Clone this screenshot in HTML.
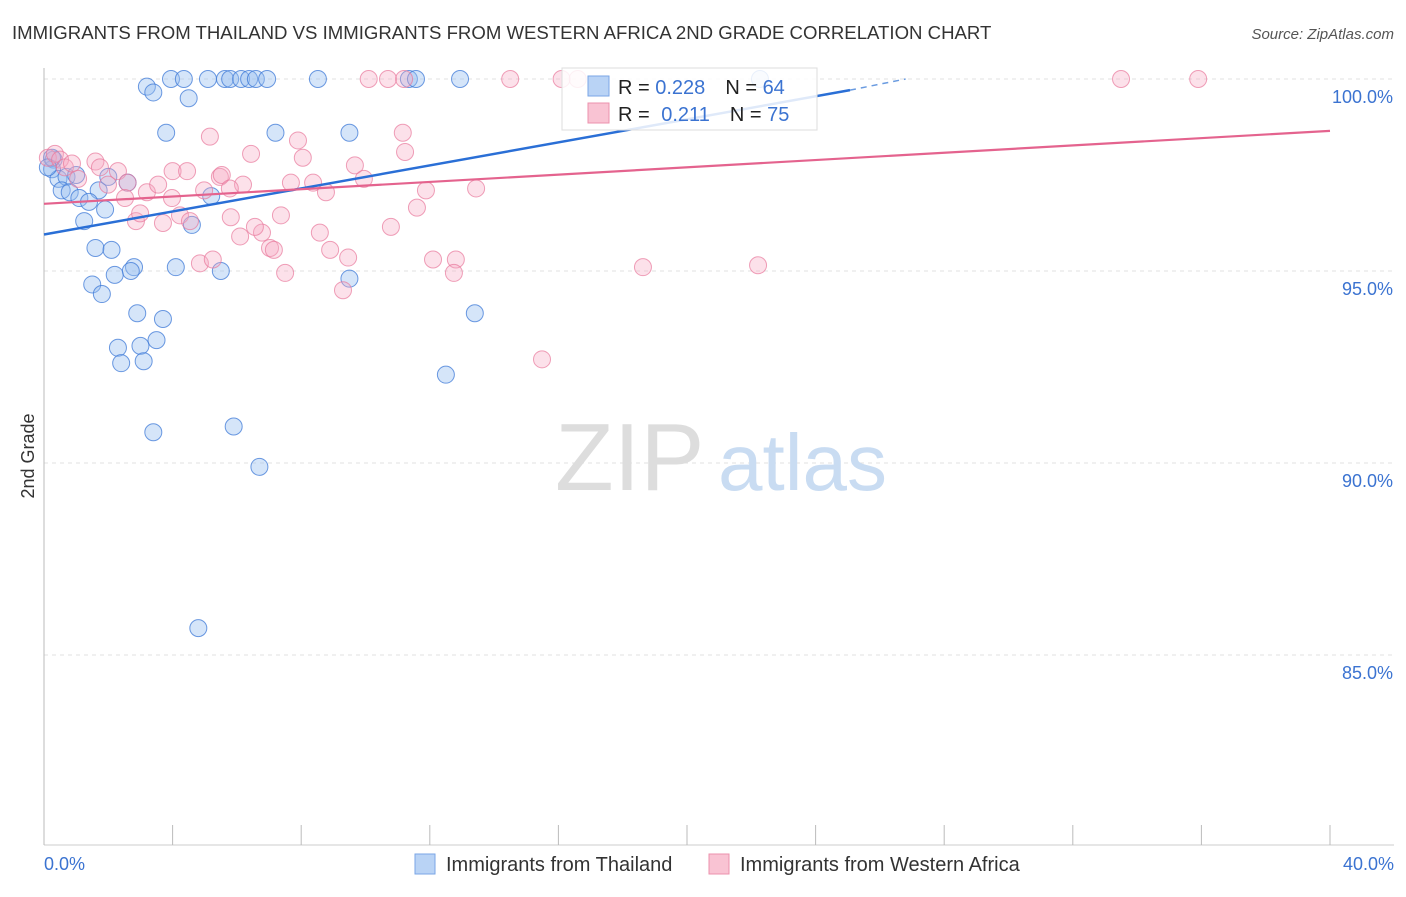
<!DOCTYPE html>
<html><head><meta charset="utf-8"><style>
body{margin:0;background:#fff;font-family:"Liberation Sans",sans-serif;}
svg text{font-family:"Liberation Sans",sans-serif;}
</style></head><body>
<svg id="chart" width="1406" height="892" xmlns="http://www.w3.org/2000/svg">
<text x="12" y="39" font-size="18.6" fill="#333">IMMIGRANTS FROM THAILAND VS IMMIGRANTS FROM WESTERN AFRICA 2ND GRADE CORRELATION CHART</text>
<text x="1394" y="39" font-size="15" fill="#555" text-anchor="end" font-style="italic">Source: ZipAtlas.com</text>
<g id="grid"></g>
<text x="555" y="490" font-size="96" fill="#ddd" font-family="Liberation Serif">ZIP</text>
<text x="718" y="490" font-size="80" fill="#c9dcf2">atlas</text>
<line x1="44" y1="68" x2="44" y2="845" stroke="#bbb"/>
<line x1="44" y1="845" x2="1394" y2="845" stroke="#ccc"/>
<g id="ticks"></g>
<g id="points"></g>
<g id="trends"></g>
<text transform="translate(34,456) rotate(-90)" font-size="18" fill="#333" text-anchor="middle">2nd Grade</text>
<text x="44" y="870" font-size="18" fill="#3b73d1">0.0%</text>
<text x="1394" y="870" font-size="18" fill="#3b73d1" text-anchor="end">40.0%</text>
<g>
<rect x="562" y="68" width="255" height="62" fill="rgba(255,255,255,0.85)" stroke="#ddd"/>
<rect x="588" y="76" width="21" height="20" fill="#b9d3f5" stroke="#7aa6e6"/>
<rect x="588" y="103" width="21" height="20" fill="#f9c3d3" stroke="#ec92ad"/>
<text x="618" y="94" font-size="20" fill="#222">R = <tspan fill="#3b73d1">0.228</tspan><tspan dx="20">N = </tspan><tspan fill="#3b73d1">64</tspan></text>
<text x="618" y="121" font-size="20" fill="#222">R = <tspan fill="#3b73d1" dx="6">0.211</tspan><tspan dx="20">N = </tspan><tspan fill="#3b73d1">75</tspan></text>
</g>
<g>
<rect x="415" y="854" width="20" height="20" fill="#b9d3f5" stroke="#7aa6e6"/>
<text x="446" y="871" font-size="20" fill="#333">Immigrants from Thailand</text>
<rect x="709" y="854" width="20" height="20" fill="#f9c3d3" stroke="#ec92ad"/>
<text x="740" y="871" font-size="20" fill="#333">Immigrants from Western Africa</text>
</g>
</svg>
<script>
const blueX=[3.95,4.35,5.1,5.63,5.79,6.13,6.38,6.59,6.94,8.52,11.35,11.57,12.94,22.27,3.2,3.4,4.5,3.8,7.2,9.5,0.3,0.25,0.45,0.7,1.0,0.55,0.8,1.7,1.1,1.4,1.25,1.9,2.0,2.6,4.6,5.2,1.6,2.1,4.1,2.8,2.7,2.2,5.5,1.5,1.8,2.9,3.7,2.3,3.0,3.5,2.4,3.1,9.5,13.4,12.5,3.4,5.9,6.7,4.8,0.25,0.12];
const blueY=[100,100,100,100,100,100,100,100,100,100,100,100,100,100,99.8,99.65,99.5,98.6,98.6,98.6,97.9,97.65,97.4,97.45,97.5,97.1,97.05,97.1,96.9,96.8,96.3,96.6,97.45,97.3,96.2,96.95,95.6,95.55,95.1,95.1,95.0,94.9,95.0,94.65,94.4,93.9,93.75,93.0,93.05,93.2,92.6,92.65,94.8,93.9,92.3,90.8,90.95,89.9,85.7,97.95,97.7];
const pinkX=[10.1,10.7,11.2,14.5,16.1,16.6,33.5,35.9,0.12,0.34,0.5,0.65,0.87,1.06,1.6,1.74,2.3,2.6,3.2,3.55,3.98,4.0,4.45,5.16,5.47,6.19,6.44,5.53,5.78,4.98,2.86,3.7,4.23,4.54,5.81,6.1,6.78,6.56,7.37,7.03,7.15,7.68,7.9,8.05,8.37,8.58,8.77,8.9,9.46,9.67,9.95,10.79,11.16,11.23,11.88,11.6,12.1,12.81,12.75,13.44,4.85,5.25,7.5,9.3,15.49,18.63,22.21,2.99,2.52,1.99];
const pinkY=[100,100,100,100,100,100,100,100,97.95,98.05,97.9,97.7,97.8,97.4,97.85,97.7,97.6,97.3,97.05,97.25,96.9,97.6,97.6,98.5,97.45,97.25,98.05,97.5,97.15,97.1,96.3,96.25,96.45,96.3,96.4,95.9,96.0,96.15,96.45,95.6,95.55,97.3,98.4,97.95,97.3,96.0,97.05,95.55,95.35,97.75,97.4,96.15,98.6,98.1,97.1,96.65,95.3,95.3,94.95,97.15,95.2,95.3,94.95,94.5,92.7,95.1,95.15,96.5,96.9,97.25];
const blueTrend=[0,95.95,25.07,99.71,26.8,100.0];
const pinkTrend=[0,96.75,40,98.65];
const yTicks=[100,95,90,85];
const yTickLabels=["100.0%","95.0%","90.0%","85.0%"];
const xTicks=[0,4,8,12,16,20,24,28,32,36,40];
const NS='http://www.w3.org/2000/svg';
const sx=v=>44+v/40*1286;
const sy=v=>79+(100-v)*38.4;
function mk(tag,attrs,parent){const e=document.createElementNS(NS,tag);for(const k in attrs)e.setAttribute(k,attrs[k]);document.getElementById(parent).appendChild(e);return e;}
yTicks.forEach((t,i)=>{
 const l=mk('line',{x1:44,x2:1394,y1:sy(t),y2:sy(t),stroke:'#e2e2e2','stroke-dasharray':'4,4'},'grid');
 
 
 const tx=mk('text',{x:1393,y:sy(t)+24,'font-size':18,fill:'#3b73d1','text-anchor':'end'},'grid');
 tx.textContent=yTickLabels[i];
 
 
});
xTicks.forEach(t=>{
 const l=mk('line',{x1:sx(t),x2:sx(t),y1:825,y2:845,stroke:'#bbb'},'ticks');
 
 
});
blueX.forEach((x,i)=>{
 const c=mk('circle',{cx:sx(x),cy:sy(blueY[i]),r:8.5,fill:'rgba(150,190,240,0.4)',stroke:'rgba(60,120,215,0.75)','stroke-width':1},'points');
 
 
});
pinkX.forEach((x,i)=>{
 const c=mk('circle',{cx:sx(x),cy:sy(pinkY[i]),r:8.5,fill:'rgba(245,170,195,0.35)',stroke:'rgba(232,120,155,0.7)','stroke-width':1},'points');
 
 
});
const bl=mk('line',{x1:sx(blueTrend[0]),y1:sy(blueTrend[1]),x2:sx(blueTrend[2]),y2:sy(blueTrend[3]),stroke:'#2a6fd6','stroke-width':2.5},'trends');


const bd=mk('line',{x1:sx(blueTrend[2]),y1:sy(blueTrend[3]),x2:sx(blueTrend[4]),y2:sy(blueTrend[5]),stroke:'#6a9be0','stroke-width':1.5,'stroke-dasharray':'6,5'},'trends');


const pl=mk('line',{x1:sx(pinkTrend[0]),y1:sy(pinkTrend[1]),x2:sx(pinkTrend[2]),y2:sy(pinkTrend[3]),stroke:'#e4638e','stroke-width':2.2},'trends');


</script>
</body></html>
